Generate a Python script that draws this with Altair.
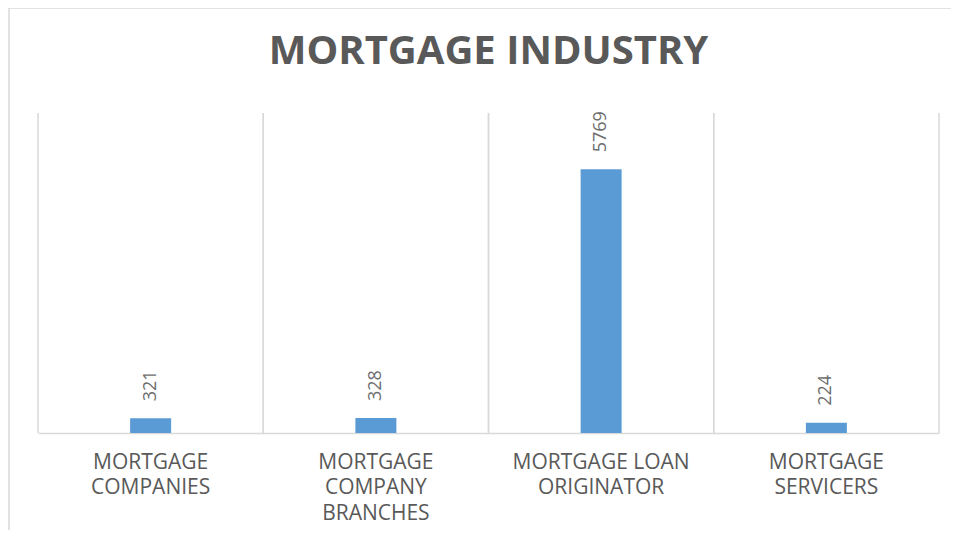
import altair as alt
import pandas as pd

categories = ["MORTGAGE COMPANIES", "MORTGAGE COMPANY BRANCHES", "MORTGAGE LOAN ORIGINATOR", "MORTGAGE SERVICERS"]
label_lines = [["MORTGAGE", "COMPANIES"], ["MORTGAGE", "COMPANY", "BRANCHES"], ["MORTGAGE LOAN", "ORIGINATOR"], ["MORTGAGE", "SERVICERS"]]
values = [321, 328, 5769, 224]

df = pd.DataFrame({"category": categories, "value": values})

W, H = 901, 320
GRID = "#d9d9d9"
TXT = "#595959"

label_expr = " : ".join(
    f"datum.label == '{c}' ? [" + ", ".join(f"'{l}'" for l in lines) + "]"
    for c, lines in zip(categories, label_lines)
) + " : datum.label"

xscale = alt.Scale(paddingInner=0, paddingOuter=0)
xaxis = alt.Axis(
    title=None, labelAngle=0, ticks=False, grid=False,
    domainColor=GRID, domainWidth=1.5,
    labelFont="Open Sans", labelFontSize=21, labelColor=TXT,
    labelPadding=18, labelLineHeight=25.5, labelExpr=label_expr,
)

base = alt.Chart(df)

frame = base.mark_rect(fill=None, stroke=GRID, strokeWidth=1.5, clip=False).encode(
    x=alt.value(-29), x2=alt.value(W + 40), y=alt.value(-105), y2=alt.value(H + 150)
).transform_filter(alt.datum.category == categories[0])

grid_left = base.mark_rule(color=GRID, strokeWidth=1.5).encode(
    x=alt.X("category:N", sort=categories, scale=xscale, bandPosition=0, axis=xaxis)
)
grid_right = base.mark_rule(color=GRID, strokeWidth=1.5).encode(
    x=alt.X("category:N", sort=categories, scale=xscale, bandPosition=1, axis=xaxis)
)

bars = base.mark_bar(color="#5B9BD5", size=41).encode(
    x=alt.X("category:N", sort=categories, scale=xscale, axis=xaxis),
    y=alt.Y("value:Q", scale=alt.Scale(domain=[0, 7000]), axis=None),
)

labels = base.mark_text(
    angle=270, align="left", baseline="middle", dx=17,
    font="Open Sans", fontSize=18, color="#6d6d6d",
).encode(
    x=alt.X("category:N", sort=categories, scale=xscale, axis=xaxis),
    y=alt.Y("value:Q", scale=alt.Scale(domain=[0, 7000]), axis=None),
    text=alt.Text("value:Q"),
)

chart = alt.layer(frame, grid_left, grid_right, bars, labels).properties(
    width=W, height=H,
    title=alt.Title(
        "MORTGAGE INDUSTRY", font="Open Sans", fontSize=40, fontWeight="bold",
        color=TXT, anchor="middle", offset=46, dy=143, frame="group", baseline="alphabetic",
    ),
    autosize=alt.AutoSizeParams(type="none"),
    padding={"left": 30, "top": 105, "right": 12, "bottom": 97},
).configure_view(stroke=None)

chart.save("out.html", embed_options={"renderer": "svg", "actions": False})
